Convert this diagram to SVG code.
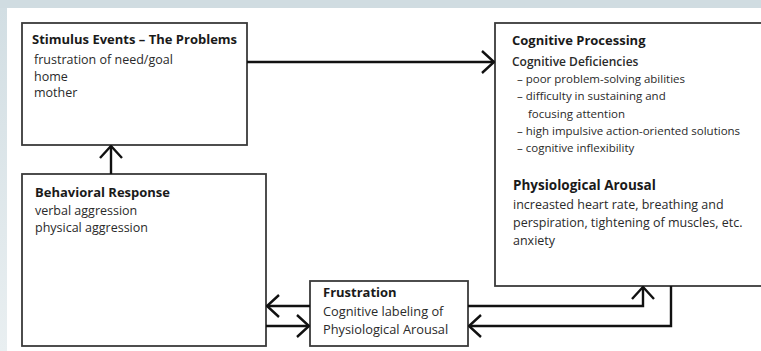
<svg xmlns="http://www.w3.org/2000/svg" width="761" height="351" viewBox="0 0 761 351">
  <defs>
    <linearGradient id="sideBand" x1="0" y1="0" x2="0" y2="1">
      <stop offset="0" stop-color="#d2dee3"/>
      <stop offset="1" stop-color="#e9eff1"/>
    </linearGradient>
    <marker id="chev" viewBox="0 0 14 24" refX="13" refY="12" markerWidth="14" markerHeight="24" markerUnits="userSpaceOnUse" orient="auto">
      <path d="M1,1 L13,12 L1,23" fill="none" stroke="#111" stroke-width="2.4"/>
    </marker>
  </defs>
  <style>
    .box { fill: #fff; stroke: #3a3a3a; stroke-width: 1.8; }
    .link { fill: none; stroke: #111; stroke-width: 2.4; marker-end: url(#chev); }
    .title { font-family: "Open Sans", "Noto Sans", sans-serif; font-weight: 700; font-size: 13px; fill: #1a1a1a; }
    .sub { font-family: "Open Sans", "Noto Sans", sans-serif; font-weight: 600; font-size: 12px; fill: #2a2a2a; }
    .body { font-family: "Open Sans", "Noto Sans", sans-serif; font-size: 12.5px; fill: #2a2a2a; }
    .item { font-family: "Open Sans", "Noto Sans", sans-serif; font-size: 11.5px; fill: #2a2a2a; }
  </style>

  <!-- page background -->
  <rect x="0" y="0" width="761" height="351" fill="#fff"/>
  <rect x="0" y="0" width="761" height="8" fill="#d0dce1"/>
  <rect x="0" y="8" width="7" height="343" fill="url(#sideBand)"/>

  <g id="stimulus">
    <rect class="box" x="22" y="23" width="225" height="122"/>
    <text class="title" x="32" y="44">Stimulus Events – The Problems</text>
    <text class="body" x="34" y="64">frustration of need/goal</text>
    <text class="body" x="34" y="81">home</text>
    <text class="body" x="34" y="97">mother</text>
  </g>

  <g id="behavioral">
    <rect class="box" x="22" y="174" width="244" height="172"/>
    <text class="title" x="35" y="197">Behavioral Response</text>
    <text class="body" x="35" y="215">verbal aggression</text>
    <text class="body" x="35" y="232">physical aggression</text>
  </g>

  <g id="cognitive">
    <rect class="box" x="495" y="23" width="280" height="263"/>
    <text class="title" x="512" y="45">Cognitive Processing</text>
    <text class="sub" x="512" y="66">Cognitive Deficiencies</text>
    <text class="item" x="517" y="83">– poor problem-solving abilities</text>
    <text class="item" x="517" y="100">– difficulty in sustaining and</text>
    <text class="item" x="528" y="118">focusing attention</text>
    <text class="item" x="517" y="135">– high impulsive action-oriented solutions</text>
    <text class="item" x="517" y="152">– cognitive inflexibility</text>
    <text class="title" x="513" y="190" style="font-size:13.5px">Physiological Arousal</text>
    <text class="body" x="513" y="209">increasted heart rate, breathing and</text>
    <text class="body" x="513" y="227">perspiration, tightening of muscles, etc.</text>
    <text class="body" x="513" y="245">anxiety</text>
  </g>

  <g id="frustration">
    <rect class="box" x="310" y="281" width="158" height="65"/>
    <text class="title" x="323" y="297">Frustration</text>
    <text class="body" x="323" y="316" style="font-size:12.8px">Cognitive labeling of</text>
    <text class="body" x="323" y="334" style="font-size:12.8px">Physiological Arousal</text>
  </g>

  <g id="connectors">
    <path class="link" d="M247,62 H494"/>
    <path class="link" d="M111,174 V146"/>
    <path class="link" d="M310,306 H267"/>
    <path class="link" d="M266,326 H309"/>
    <path class="link" d="M468,306 H643 V287"/>
    <path class="link" d="M671,286 V326 H469"/>
  </g>
</svg>
